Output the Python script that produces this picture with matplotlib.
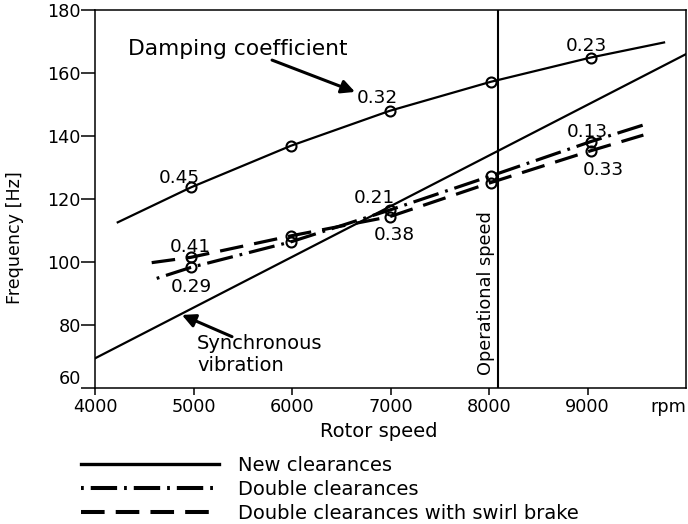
import matplotlib
matplotlib.use("Agg")
import matplotlib.pyplot as plt
from matplotlib.lines import Line2D

plt.rcParams['font.family'] = 'DejaVu Sans'
plt.rcParams['lines.scale_dashes'] = False

# rotor speed [rpm] / frequency [Hz]
new_x = [4226, 4970, 5985, 6990, 8015, 9030, 9777]
new_y = [112.6, 123.7, 136.9, 148.0, 157.2, 164.9, 169.7]

double_x = [4622, 4970, 5985, 6990, 8015, 9030, 9567]
double_y = [94.8, 98.3, 106.4, 116.5, 127.3, 138.2, 143.5]

swirl_x = [4571, 4970, 5985, 6990, 8015, 9030, 9567]
swirl_y = [99.8, 101.5, 108.3, 114.4, 125.2, 135.3, 140.3]

sync_x = [4000, 10000]
sync_y = [69.5, 166.0]

operational_speed = 8090

# damping coefficients written next to the measured points
new_damping = {1: '0.45', 3: '0.32', 5: '0.23'}
double_damping = {1: '0.29', 3: '0.21', 5: '0.13'}
swirl_damping = {1: '0.41', 3: '0.38', 5: '0.33'}

x_ticks = [4000, 5000, 6000, 7000, 8000, 9000]
y_ticks = [60, 80, 100, 120, 140, 160, 180]

dashdot = (24, (19, 5, 2, 5))
dashed = (0, (17, 8))

fig = plt.figure(figsize=(6.88, 5.24), dpi=100)
ax = fig.add_axes([0.1388, 0.2595, 0.8583, 0.7214])

ax.plot(new_x, new_y, color='black', lw=1.6)
ax.plot(sync_x, sync_y, color='black', lw=1.6)
ax.plot(double_x, double_y, color='black', lw=2.3, linestyle=dashdot)
ax.plot(swirl_x, swirl_y, color='black', lw=2.3, linestyle=dashed)

for xs, ys in [(new_x, new_y), (double_x, double_y), (swirl_x, swirl_y)]:
    ax.plot(xs[1:-1], ys[1:-1], 'o', ms=7.2, mfc='none', mec='black', mew=1.5)

ax.axvline(operational_speed, color='black', lw=1.5)

# label offsets in pixels from the marker
offsets = {
    ('new', 1): (-12, 4), ('new', 3): (-12, 8), ('new', 5): (-4, 7),
    ('double', 1): (0, -25), ('double', 3): (-15, 7), ('double', 5): (-3, 5),
    ('swirl', 1): (-1, 5), ('swirl', 3): (5, -23), ('swirl', 5): (13, -24),
}
for name, xs, ys, labels in [('new', new_x, new_y, new_damping),
                             ('double', double_x, double_y, double_damping),
                             ('swirl', swirl_x, swirl_y, swirl_damping)]:
    for i, txt in labels.items():
        ax.annotate(txt, (xs[i], ys[i]), xytext=offsets[(name, i)],
                    textcoords='offset pixels', ha='center', va='baseline',
                    fontsize=13.3)

ax.text(4330, 165.7, 'Damping coefficient', fontsize=15.7, va='baseline')
ax.annotate('', xy=(6637, 154.0), xytext=(5794, 164.1),
            arrowprops=dict(arrowstyle='-|>', color='black', lw=2.2,
                            mutation_scale=20, shrinkA=0, shrinkB=0))

ax.text(5031, 77.0, 'Synchronous\nvibration', fontsize=14, va='top',
        linespacing=1.15)
ax.annotate('', xy=(4878, 83.2), xytext=(5387, 76.3),
            arrowprops=dict(arrowstyle='-|>', color='black', lw=2.2,
                            mutation_scale=20, shrinkA=0, shrinkB=0))

ax.text(7968, 90.0, 'Operational speed', rotation=90, fontsize=12.8,
        ha='center', va='center')

ax.set_xlim(4000, 10000)
ax.set_ylim(60, 180)
ax.set_xticks(x_ticks + [9820])
ax.set_xticklabels([str(v) for v in x_ticks] + ['rpm'], fontsize=12.7)
ax.xaxis.get_major_ticks()[-1].tick1line.set_visible(False)
ax.set_yticks(y_ticks)
ax.set_yticklabels([str(v) for v in y_ticks], fontsize=12.7)
ax.get_yticklabels()[0].set_va('bottom')

ax.tick_params(axis='x', direction='out', length=5, width=1.1, pad=2)
ax.tick_params(axis='y', direction='out', length=10, width=1.1, pad=0.5)
for sp in ax.spines.values():
    sp.set_linewidth(1.1)

ax.set_xlabel('Rotor speed', fontsize=14)
ax.xaxis.set_label_coords(0.48, -0.09)
ax.set_ylabel('Frequency [Hz]', fontsize=12.6)
ax.yaxis.set_label_coords(-0.121, 0.397)

handles = [
    Line2D([], [], color='black', lw=2.4),
    Line2D([], [], color='black', lw=2.9, linestyle=(24, (19, 5, 2, 5))),
    Line2D([], [], color='black', lw=2.9, linestyle=dashed),
]
labels = ['New clearances', 'Double clearances',
          'Double clearances with swirl brake']
fig.legend(handles, labels, loc='upper left', bbox_to_anchor=(0.1173, 0.1298),
           frameon=False, fontsize=14, handlelength=7.09, handletextpad=0.98,
           labelspacing=0.25, borderpad=0, borderaxespad=0)

fig.savefig('out.png', dpi=100)
